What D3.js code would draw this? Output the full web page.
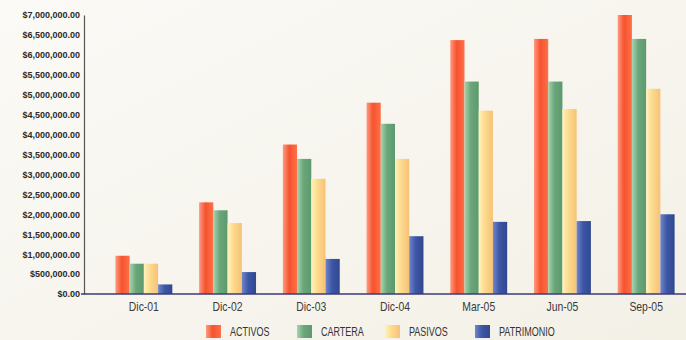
<!DOCTYPE html>
<html>
<head>
<meta charset="utf-8">
<script src="https://cdn.jsdelivr.net/npm/d3@7"></script>
<style>
  html, body { margin: 0; padding: 0; background: #f7f5ee; }
  svg { display: block; }
</style>
</head>
<body>
<svg id="chart" width="686" height="340"></svg>
<script>
// Periods and balances per series (USD)
const periods = ["Dic-01", "Dic-02", "Dic-03", "Dic-04", "Mar-05", "Jun-05", "Sep-05"];
const seriesNames = ["ACTIVOS", "CARTERA", "PASIVOS", "PATRIMONIO"];
const activos    = [960000, 2300000, 3750000, 4800000, 6370000, 6400000, 7000000];
const cartera    = [760000, 2100000, 3390000, 4270000, 5330000, 5330000, 6400000];
const pasivos    = [760000, 1780000, 2890000, 3390000, 4600000, 4640000, 5150000];
const patrimonio = [240000,  550000,  880000, 1450000, 1810000, 1830000, 2000000];
const yTicks = d3.range(0, 7000001, 500000);

const seriesValues = [activos, cartera, pasivos, patrimonio];

// colour stops across each bar (left -> centre -> right)
const palette = [
  ["#ff9a80", "#f5532e", "#ff7048"],
  ["#a6d4ae", "#6aa67a", "#5c9a6d"],
  ["#fff2bb", "#fcd98c", "#f6c277"],
  ["#7086cc", "#3d56a6", "#31488f"]
];

const svg = d3.select("#chart");
const defs = svg.append("defs");

// paper background
const bg = defs.append("linearGradient").attr("id", "bg")
  .attr("x1", 0).attr("y1", 0).attr("x2", 1).attr("y2", 1);
bg.append("stop").attr("offset", 0).attr("stop-color", "#fbfaf6");
bg.append("stop").attr("offset", 1).attr("stop-color", "#f3f0e6");
svg.append("rect").attr("width", 686).attr("height", 340).attr("fill", "url(#bg)");

palette.forEach((c, i) => {
  const g = defs.append("linearGradient").attr("id", "g" + i)
    .attr("x1", 0).attr("y1", 0).attr("x2", 1).attr("y2", 0);
  g.append("stop").attr("offset", 0).attr("stop-color", c[0]);
  g.append("stop").attr("offset", 0.45).attr("stop-color", c[1]);
  g.append("stop").attr("offset", 1).attr("stop-color", c[2]);
});

const x0 = d3.scaleBand().domain(periods).range([102, 688])
  .paddingInner(0.32).paddingOuter(0.16);
const x1 = d3.scaleBand().domain(seriesNames).range([0, x0.bandwidth()]);
const y = d3.scaleLinear().domain([0, 7000000]).range([294, 15]);

const fmt = d3.format("$,.2f");

// squeeze text horizontally to get a condensed face
function condense(sel, k) {
  sel.each(function () {
    const w = this.getComputedTextLength();
    d3.select(this).attr("textLength", w * k).attr("lengthAdjust", "spacingAndGlyphs");
  });
}

// bars
const groups = svg.append("g").selectAll("g")
  .data(periods)
  .join("g")
  .attr("transform", d => `translate(${x0(d)},0)`);

groups.selectAll("rect")
  .data((p, pi) => seriesNames.map((s, si) => ({ s, si, v: seriesValues[si][pi] })))
  .join("rect")
  .attr("x", d => x1(d.s))
  .attr("width", x1.bandwidth())
  .attr("y", d => y(d.v))
  .attr("height", d => y(0) - y(d.v))
  .attr("fill", d => `url(#g${d.si})`);

// y axis
const yAxis = svg.append("g").attr("transform", "translate(84,0)")
  .call(d3.axisLeft(y).tickValues(yTicks).tickFormat(fmt).tickSize(0).tickPadding(4));
yAxis.select(".domain").attr("stroke", "#555").attr("stroke-width", 1.2);
yAxis.selectAll("text")
  .attr("font-family", "'Liberation Sans', Arial, sans-serif")
  .attr("font-size", 9).attr("font-weight", "bold").attr("fill", "#2b2b2b");

// baseline
svg.append("line")
  .attr("x1", 81).attr("x2", 686)
  .attr("y1", y(0)).attr("y2", y(0))
  .attr("stroke", "#3b3b78").attr("stroke-width", 1.5);

// x axis labels
const xAxis = svg.append("g").attr("transform", `translate(0,${y(0)})`)
  .call(d3.axisBottom(x0).tickSize(0).tickPadding(8));
xAxis.select(".domain").remove();
xAxis.selectAll("text")
  .attr("font-family", "'Liberation Sans', Arial, sans-serif")
  .attr("font-size", 13).attr("fill", "#3a3a3a")
  .call(condense, 0.8);

// legend
const legendX = [206, 297, 385, 475];
const legend = svg.append("g").selectAll("g")
  .data(seriesNames)
  .join("g")
  .attr("transform", (d, i) => `translate(${legendX[i]},325)`);
legend.append("rect")
  .attr("width", 15).attr("height", 13)
  .attr("fill", (d, i) => `url(#g${i})`);
legend.append("text")
  .attr("x", 24).attr("y", 11)
  .attr("font-family", "'Liberation Sans', Arial, sans-serif")
  .attr("font-size", 12).attr("fill", "#333")
  .text(d => d)
  .call(condense, 0.75);
</script>
</body>
</html>
